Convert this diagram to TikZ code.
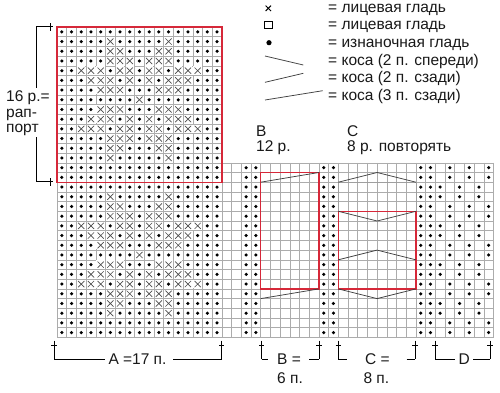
\documentclass[tikz,border=0pt]{standalone}
\usepackage{fontspec}
\setmainfont{Liberation Sans}
\definecolor{redc}{RGB}{214,40,57}
\begin{document}
\begin{tikzpicture}[x=1pt,y=-1pt,
  gridl/.style={draw=gray!65, line width=0.5pt},
  redbox/.style={draw=redc, line width=1.4pt},
  cable/.style={draw=black!75, line width=0.75pt},
  xst/.style={draw=black!70, line width=0.65pt},
  brk/.style={draw=black, line width=0.7pt},
  lbl/.style={font=\fontsize{15.5}{18}\selectfont, inner sep=0pt, anchor=base west, text=black!90},
]
\useasboundingbox[fill=white] (0,0) rectangle (500,392);
\def\s{9.7}
% ---- grids
\foreach \i in {0,...,17} \draw[gridl] ({57+\i*\s},27) -- ({57+\i*\s},{27+32*\s});
\foreach \j in {0,...,32} \draw[gridl] (57,{27+\j*\s}) -- ({57+17*\s},{27+\j*\s});
\foreach \i in {18,...,45} \draw[gridl] ({57+\i*\s},{27+14*\s}) -- ({57+\i*\s},{27+32*\s});
\foreach \j in {14,...,32} \draw[gridl] ({57+17*\s},{27+\j*\s}) -- ({57+45*\s},{27+\j*\s});
% ---- A dots
\foreach \c in {1,...,17} \foreach \r in {1,...,32}
  \fill ({57+(\c-0.5)*\s},{27+(\r-0.5)*\s}) circle (1.75pt);
% ---- A crosses
\foreach \r/\xs in {2/{6,12},3/{6,7,11,12},4/{6,7,8,10,11,12},5/{3,4,5,7,8,10,11,13,14,15},
  6/{4,5,6,8,10,12,13,14},7/{5,6,7,11,12,13},8/{9},9/{5,6,7,11,12,13},
  10/{4,5,6,8,10,12,13,14},11/{3,4,5,7,8,10,11,13,14,15},12/{6,7,8,10,11,12},13/{6,7,11,12},14/{6,12}} {
  \foreach \c in \xs {
    \foreach \o in {0,16} {
      \pgfmathsetmacro\px{57+(\c-0.5)*\s}
      \pgfmathsetmacro\py{27+(\r+\o-0.5)*\s}
      \fill[white] (\px-4.2,\py-4.2) rectangle (\px+4.2,\py+4.2);
      \draw[xst] (\px-3.1,\py-3.1) -- (\px+3.1,\py+3.1) (\px-3.1,\py+3.1) -- (\px+3.1,\py-3.1);
    }}}
% ---- right part dots
\foreach \c in {20,21,28,29,38,39} \foreach \k in {1,...,18}
  \fill ({57+(\c-0.5)*\s},{27+(\k+13.5)*\s}) circle (1.75pt);
\foreach \k in {1,...,18} {
  \pgfmathtruncatemacro\m{mod(\k-1,4)}
  \ifnum\m<2 \def\cols{41,43,45}\else\def\cols{40,42,44}\fi
  \foreach \c in \cols
    \fill ({57+(\c-0.5)*\s},{27+(\k+13.5)*\s}) circle (1.75pt);
}
% ---- grey box in C
\draw[draw=gray!75, line width=0.6pt] ({57+29*\s},{27+16*\s}) rectangle ({57+37*\s},{27+19*\s});
% ---- red boxes
\draw[redbox] (57,27) rectangle ({57+17*\s},{27+16*\s});
\draw[redbox] ({57+21*\s},{27+15*\s}) rectangle ({57+27*\s},{27+27*\s});
\draw[redbox] ({57+29*\s},{27+19*\s}) rectangle ({57+37*\s},{27+27*\s});
% ---- cables
\draw[cable] ({57+21*\s},{27+16*\s}) -- ({57+27*\s},{27+15*\s});
\draw[cable] ({57+21*\s},{27+28*\s}) -- ({57+27*\s},{27+27*\s});
\draw[cable] ({57+29*\s},{27+16*\s}) -- ({57+33*\s},{27+15*\s}) -- ({57+37*\s},{27+16*\s});
\draw[cable] ({57+29*\s},{27+19*\s}) -- ({57+33*\s},{27+20*\s}) -- ({57+37*\s},{27+19*\s});
\draw[cable] ({57+29*\s},{27+24*\s}) -- ({57+33*\s},{27+23*\s}) -- ({57+37*\s},{27+24*\s});
\draw[cable] ({57+29*\s},{27+27*\s}) -- ({57+33*\s},{27+28*\s}) -- ({57+37*\s},{27+27*\s});
% ---- legend
\draw[line width=1pt] (265.6,5.6) -- (271,11) (265.6,11) -- (271,5.6);
\draw[line width=0.75pt] (264.7,21.4) rectangle (272,28.7);
\fill (269,42.7) circle (2.6pt);
\draw[cable] (265,56) -- (303.3,65);
\draw[cable] (265,82.3) -- (303.3,73.3);
\draw[cable] (265,100) -- (322.7,90.7);
\node[lbl] (l1) at (328,12.3) {= лицевая гладь};
\node[lbl] (l2) at (328,29.9) {= лицевая гладь};
\node[lbl] (l3) at (328,47.5) {= изнаночная гладь};
\node[lbl] (l4) at (328,65.1) {= коса (2 п. спереди)};
\node[lbl] (l5) at (328,82.7) {= коса (2 п. сзади)};
\node[lbl] (l6) at (328,100.3) {= коса (3 п. сзади)};
\node[lbl] (bt) at (256,136) {B};
\node[lbl] (bt2) at (256,151.7) {12 р.};
\node[lbl] (ct) at (347,136) {C};
\node[lbl] (ct2) at (347,151.7) {8 р. повторять};
% ---- left bracket
\node[lbl] (r1) at (6,101.7) {16 р.=};
\node[lbl] (r2) at (6,117.3) {рап-};
\node[lbl] (r3) at (6,132.3) {порт};
\draw[brk] (52.5,26.7) -- (36,26.7) -- (36,88);
\draw[brk] (36,137) -- (36,181.7) -- (52.5,181.7);
\draw[brk] (50,23) -- (50,30.5) (50,178) -- (50,185.5);
% ---- bottom brackets
\foreach \bx in {54,221.7,261.7,319,338.3,415,435,490} {
  \draw[brk] (\bx,340.7) -- (\bx,359.3);
  \draw[brk] (\bx-2.6,345) -- (\bx+2.6,345);
}
\draw[brk] (54,359.3) -- (105,359.3) (173,359.3) -- (221.7,359.3);
\draw[brk] (261.7,359.3) -- (268.3,359.3) (309.3,359.3) -- (319,359.3);
\draw[brk] (338.3,359.3) -- (346.7,359.3) (406.7,359.3) -- (415,359.3);
\draw[brk] (435,359.3) -- (455,359.3) (473.3,359.3) -- (490,359.3);
\node[lbl] (an) at (108.3,364.3) {A =17 п.};
\node[lbl] (bn) at (277,364.3) {B =};
\node[lbl] (bn2) at (277,383.3) {6 п.};
\node[lbl] (cn) at (365,364.3) {C =};
\node[lbl] (cn2) at (363.3,383.3) {8 п.};
\node[lbl] (dn) at (458.3,364.3) {D};
\end{tikzpicture}
\end{document}
